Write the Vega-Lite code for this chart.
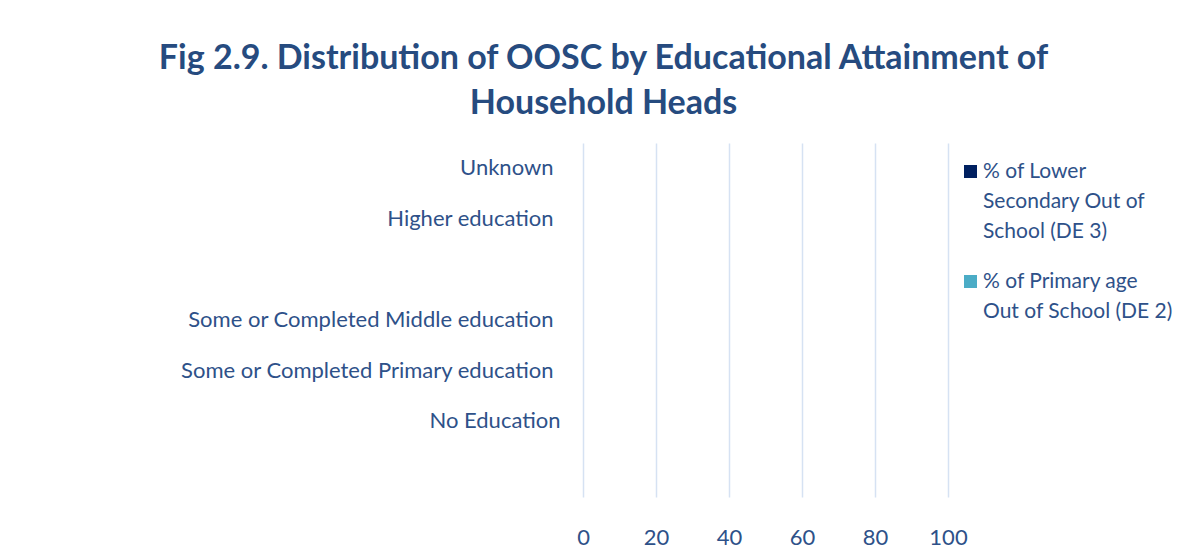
{
  "$schema": "https://vega.github.io/schema/vega-lite/v6.json",
  "width": 365,
  "height": 354,
  "autosize": {"type": "none"},
  "padding": {"left": 583, "top": 143, "right": 236, "bottom": 63},
  "background": "white",
  "title": {
    "text": ["Fig 2.9.  Distribution of OOSC by Educational Attainment of", "Household Heads"],
    "font": "Lato",
    "fontSize": 34,
    "fontWeight": "bold",
    "color": "#264B7F",
    "anchor": "middle",
    "frame": "group",
    "dx": -162,
    "offset": 22,
    "lineHeight": 45,
    "limit": 1100
  },
  "data": {
    "values": [
      {"category": "Unknown", "series": "% of Lower Secondary Out of School (DE 3)", "value": 0},
      {"category": "Unknown", "series": "% of Primary age Out of School (DE 2)", "value": 0},
      {"category": "Higher education", "series": "% of Lower Secondary Out of School (DE 3)", "value": 0},
      {"category": "Higher education", "series": "% of Primary age Out of School (DE 2)", "value": 0},
      {"category": " ", "series": "% of Lower Secondary Out of School (DE 3)", "value": 0},
      {"category": " ", "series": "% of Primary age Out of School (DE 2)", "value": 0},
      {"category": "Some or Completed Middle education", "series": "% of Lower Secondary Out of School (DE 3)", "value": 0},
      {"category": "Some or Completed Middle education", "series": "% of Primary age Out of School (DE 2)", "value": 0},
      {"category": "Some or Completed Primary education", "series": "% of Lower Secondary Out of School (DE 3)", "value": 0},
      {"category": "Some or Completed Primary education", "series": "% of Primary age Out of School (DE 2)", "value": 0},
      {"category": "No Education", "series": "% of Lower Secondary Out of School (DE 3)", "value": 0},
      {"category": "No Education", "series": "% of Primary age Out of School (DE 2)", "value": 0},
      {"category": "  ", "series": "% of Lower Secondary Out of School (DE 3)", "value": 0},
      {"category": "  ", "series": "% of Primary age Out of School (DE 2)", "value": 0}
    ]
  },
  "mark": {"type": "bar"},
  "encoding": {
    "y": {
      "field": "category",
      "type": "nominal",
      "sort": null,
      "title": null,
      "scale": {"paddingInner": 0.3, "paddingOuter": 0.15},
      "axis": {
        "domain": false,
        "ticks": false,
        "grid": false,
        "labelFont": "Lato",
        "labelFontSize": 22,
        "labelColor": "#2E5189",
        "labelPadding": {"expr": "datum.value === 'No Education' ? 23 : 30"},
        "labelLimit": 500
      }
    },
    "yOffset": {"field": "series", "type": "nominal"},
    "x": {
      "field": "value",
      "type": "quantitative",
      "title": null,
      "scale": {"domain": [0, 100], "nice": false},
      "axis": {
        "values": [0, 20, 40, 60, 80, 100],
        "domain": false,
        "ticks": false,
        "grid": true,
        "gridColor": "#D6E2F3",
        "gridWidth": 1.5,
        "labelFont": "Lato",
        "labelFontSize": 22,
        "labelColor": "#2E5189",
        "labelPadding": 30,
        "labelFlush": false,
        "labelOverlap": false
      }
    },
    "color": {
      "field": "series",
      "type": "nominal",
      "scale": {
        "domain": ["% of Lower Secondary Out of School (DE 3)", "% of Primary age Out of School (DE 2)"],
        "range": ["#002060", "#4BACC6"]
      },
      "legend": {
        "title": null,
        "orient": "right",
        "offset": -6,
        "padding": 18,
        "symbolType": "square",
        "symbolSize": 170,
        "symbolStrokeWidth": 0,
        "labelFont": "Lato",
        "labelFontSize": 21,
        "labelColor": "#2E5189",
        "labelLimit": 300,
        "labelOffset": 2,
        "rowPadding": 28,
        "labelExpr": "datum.value === '% of Lower Secondary Out of School (DE 3)' ? ['% of Lower', 'Secondary Out of', 'School (DE 3)'] : ['% of Primary age', 'Out of School (DE 2)']"
      }
    }
  },
  "config": {
    "view": {"stroke": null},
    "style": {"guide-label": {"lineHeight": 30}}
  }
}
